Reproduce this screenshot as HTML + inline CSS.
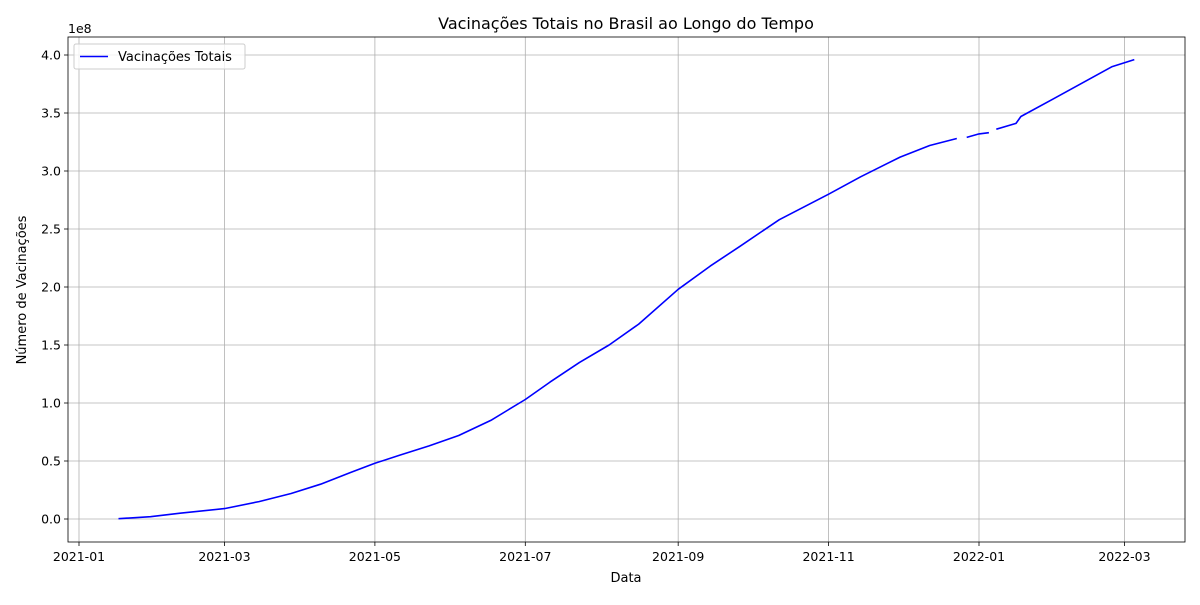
<!DOCTYPE html>
<html><head><meta charset="utf-8">
<style>
body{margin:0;background:#fff;font-family:"Liberation Sans","DejaVu Sans",sans-serif;}
svg text{font-family:"DejaVu Sans","Liberation Sans",sans-serif;}
</style></head>
<body>
<svg id="chart" width="1200" height="600" xmlns="http://www.w3.org/2000/svg"></svg>
<script>
const dates=["2021-01-17","2021-01-30","2021-02-11","2021-03-01","2021-03-15","2021-03-28","2021-04-09","2021-04-21","2021-05-01","2021-05-11","2021-05-23","2021-06-04","2021-06-17","2021-07-01","2021-07-11","2021-07-23","2021-08-04","2021-08-16","2021-09-01","2021-09-14","2021-09-26","2021-10-12","2021-11-01","2021-11-14","2021-11-30","2021-12-12","2021-12-23",null,"2021-12-27","2022-01-01","2022-01-05",null,"2022-01-08","2022-01-16","2022-01-18","2022-01-31","2022-02-12","2022-02-24","2022-03-05"];
const values=[0.3,2,5,9,15,22,30,40,48,55,63,72,85,103,118,135,150,168,198,218,235,258,280,295,312,322,328,null,329,332,333,null,336,341,347,362,376,390,396];
const yTicks=[0,0.5,1.0,1.5,2.0,2.5,3.0,3.5,4.0];
const xTicks=["2021-01-01","2021-03-01","2021-05-01","2021-07-01","2021-09-01","2021-11-01","2022-01-01","2022-03-01"];
const svg=document.getElementById('chart');
const NS="http://www.w3.org/2000/svg";
const L=68,R=1185,T=37,B=542;
const d0=Date.UTC(2021,0,1);
function dayOf(s){const p=s.split('-');return (Date.UTC(+p[0],+p[1]-1,+p[2])-d0)/86400000;}
function X(s){return 79+dayOf(s)*900/365;}
function Y(v){return 519-v*(464/400);} // v in millions
function mk(tag,attrs,txt){const e=document.createElementNS(NS,tag);for(const k in attrs)e.setAttribute(k,attrs[k]);if(txt!==undefined)e.textContent=txt;svg.appendChild(e);return e;}
// grid + ticks
yTicks.forEach(t=>{const y=Y(t*100);
 const g=mk('line',{x1:L,x2:R,y1:y,y2:y,stroke:'#b0b0b0','stroke-width':0.8});
 
 
 mk('line',{x1:L-4,x2:L,y1:y,y2:y,stroke:'#000','stroke-width':0.8});
 const tx=mk('text',{x:L-7,y:y+4.5,'text-anchor':'end','font-size':12.5},t.toFixed(1));
 
 
});
xTicks.forEach(t=>{const x=X(t);
 const g=mk('line',{x1:x,x2:x,y1:T,y2:B,stroke:'#b0b0b0','stroke-width':0.8});
 
 
 mk('line',{x1:x,x2:x,y1:B,y2:B+4,stroke:'#000','stroke-width':0.8});
 const tx=mk('text',{x:x,y:B+19,'text-anchor':'middle','font-size':12.5},t.slice(0,7));
 
 
});
// series
let d="",pen=false;
for(let i=0;i<dates.length;i++){
 if(dates[i]===null||values[i]===null){pen=false;continue;}
 d+=(pen?"L":"M")+X(dates[i]).toFixed(1)+","+Y(values[i]).toFixed(1);pen=true;
}
const line=mk('path',{d:d,fill:'none',stroke:'#0000ff','stroke-width':1.6,'stroke-linejoin':'round'});


// frame
const fr=mk('rect',{x:L,y:T,width:R-L,height:B-T,fill:'none',stroke:'#000','stroke-width':0.8});


</script>
<svg style="position:absolute;left:0;top:0" width="1200" height="600" xmlns="http://www.w3.org/2000/svg">
<text x="626" y="29" text-anchor="middle" font-size="16">Vacinações Totais no Brasil ao Longo do Tempo</text>
<text x="68" y="33" font-size="12.5">1e8</text>
<text x="626" y="582" text-anchor="middle" font-size="13">Data</text>
<text transform="translate(26,290) rotate(-90)" text-anchor="middle" font-size="13">Número de Vacinações</text>
<g>
<rect x="74" y="44" width="171" height="25" fill="#fff" fill-opacity="0.8" stroke="#ccc" rx="2"/>
<line x1="80" x2="108" y1="56.5" y2="56.5" stroke="#0000ff" stroke-width="1.6"/>
<text x="118" y="61" font-size="13">Vacinações Totais</text>
</g>
</svg>
</body></html>
